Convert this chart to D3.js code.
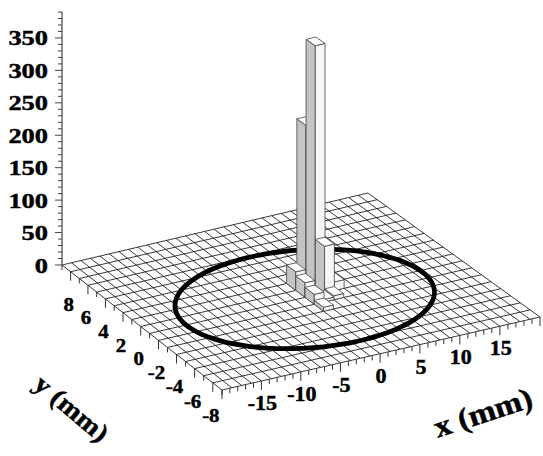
<!DOCTYPE html>
<html>
<head>
<meta charset="utf-8">
<script src="https://cdn.jsdelivr.net/npm/d3@7"></script>
<style>
  body { margin: 0; background: #fff; }
  text { font-family: "Liberation Serif", "Times New Roman", serif; font-weight: bold; fill: #000; stroke: #000; stroke-width: 0.45px; }
</style>
</head>
<body>
<svg width="543" height="456"></svg>
<script>
// histogram range and binning (mm)
const xRange = [-20, 20];
const yRange = [-9, 9];
const xBin = 1.25;
const yBin = 1;
const zMax = 390;

// tick labels
const zTicks = [0, 50, 100, 150, 200, 250, 300, 350];
const xTickLabels = [-15, -10, -5, 0, 5, 10, 15];
const yTickLabels = [8, 6, 4, 2, 0, -2, -4, -6, -8];

// non-empty bins: centre x, centre y, counts
const barX = [3.125, 3.125, 3.125, 4.375, 0.625, 0.625, 0.625, 0.625, 1.875, 3.125];
const barY = [1.5, 0.5, -0.5, -0.5, 0.5, -0.5, -1.5, -2.5, -1.5, -1.5];
const barZ = [232, 362, 70, 13, 28, 22, 15, 6, 4, 6];

// beam ellipse on the floor
const ellipseCenter = [-0.3, -1.1];
const ellipseAxes = [15, 6];

const svg = d3.select('svg');
const g = svg.append('g');

// floor corners in the picture: (u,v) = (0,0) (1,0) (1,1) (0,1)
const corners = [[62, 265], [368, 193], [540, 317], [222, 390]];

function makeH(q) {
  const [x0, y0] = q[0], [x1, y1] = q[1], [x2, y2] = q[2], [x3, y3] = q[3];
  const dx1 = x1 - x2, dx2 = x3 - x2, dx3 = x0 - x1 + x2 - x3;
  const dy1 = y1 - y2, dy2 = y3 - y2, dy3 = y0 - y1 + y2 - y3;
  const den = dx1 * dy2 - dx2 * dy1;
  const gg = (dx3 * dy2 - dx2 * dy3) / den, hh = (dx1 * dy3 - dx3 * dy1) / den;
  const a = x1 - x0 + gg * x1, b = x3 - x0 + hh * x3, c = x0;
  const d = y1 - y0 + gg * y1, e = y3 - y0 + hh * y3, f = y0;
  return (u, v) => {
    const w = gg * u + hh * v + 1;
    return [(a * u + b * v + c) / w, (d * u + e * v + f) / w, w];
  };
}
const H = makeH(corners);

const uScale = d3.scaleLinear().domain(xRange).range([0, 1]);
const vScale = d3.scaleLinear().domain([yRange[1], yRange[0]]).range([0, 1]);
const zScale = d3.scaleLinear().domain([0, zMax]).range([0, 253]);

function P(x, y, z) {
  const [X, Y, w] = H(uScale(x), vScale(y));
  return [X, Y - zScale(z || 0) / w];
}

const line = d3.line();

// floor grid
const xEdges = d3.range(xRange[0], xRange[1] + 1e-6, xBin);
const yEdges = d3.range(yRange[0], yRange[1] + 1e-6, yBin);
g.append('g').selectAll('path').data(xEdges).enter().append('path')
  .attr('d', x => line([P(x, yRange[0]), P(x, yRange[1])]))
  .attr('stroke', '#222').attr('stroke-width', 0.9).attr('fill', 'none');
g.append('g').selectAll('path').data(yEdges).enter().append('path')
  .attr('d', y => line([P(xRange[0], y), P(xRange[1], y)]))
  .attr('stroke', '#222').attr('stroke-width', 0.9).attr('fill', 'none');

// ellipse
const ellPts = d3.range(0, 360, 3).map(t => {
  const r = t * Math.PI / 180;
  return P(ellipseCenter[0] + ellipseAxes[0] * Math.cos(r), ellipseCenter[1] + ellipseAxes[1] * Math.sin(r));
});
g.append('path')
  .attr('d', d3.line().curve(d3.curveCardinalClosed)(ellPts))
  .attr('fill', 'none').attr('stroke', '#000').attr('stroke-width', 4.8);

// bars, back to front
const bars = barX.map((x, i) => ({x: x, y: barY[i], z: barZ[i]}))
  .sort((a, b) => (b.y - a.y) || (b.x - a.x));

const barG = g.append('g');
bars.forEach(b => {
  const x0 = b.x - xBin / 2, x1 = b.x + xBin / 2, y0 = b.y - yBin / 2, y1 = b.y + yBin / 2;
  // left face (x = x0)
  barG.append('path')
    .attr('d', line([P(x0, y0, 0), P(x0, y1, 0), P(x0, y1, b.z), P(x0, y0, b.z)]) + 'Z')
    .attr('fill', '#c4c4c4').attr('stroke', '#444').attr('stroke-width', 0.8);
  // front face (y = y0)
  barG.append('path')
    .attr('d', line([P(x0, y0, 0), P(x1, y0, 0), P(x1, y0, b.z), P(x0, y0, b.z)]) + 'Z')
    .attr('fill', '#f6f6f6').attr('stroke', '#444').attr('stroke-width', 0.8);
  // top
  barG.append('path')
    .attr('d', line([P(x0, y0, b.z), P(x1, y0, b.z), P(x1, y1, b.z), P(x0, y1, b.z)]) + 'Z')
    .attr('fill', '#fff').attr('stroke', '#444').attr('stroke-width', 0.8);
});

// z axis
const zx = corners[0][0], zy = corners[0][1];
g.append('path').attr('d', line([[zx, zy], [zx, zy - zScale(zMax)]]))
  .attr('stroke', '#444').attr('stroke-width', 1.2);
g.append('g').selectAll('path').data(d3.range(0, zMax + 1, 10)).enter().append('path')
  .attr('d', z => line([[zx, zy - zScale(z)], [zx - (z % 50 === 0 ? 7 : 4), zy - zScale(z)]]))
  .attr('stroke', '#444').attr('stroke-width', 1);
g.append('g').selectAll('text').data(zTicks).enter().append('text')
  .attr('transform', z => `translate(48,${zy - zScale(z) + 7.5}) scale(1.2,1)`)
  .attr('text-anchor', 'end').attr('font-size', 22)
  .text(z => z);

// x axis ticks along the front edge
g.append('g').selectAll('path').data(d3.range(xRange[0], xRange[1] + 1e-6, 1)).enter().append('path')
  .attr('d', x => { const p = P(x, yRange[0]); return line([p, [p[0], p[1] + (x % 5 === 0 ? 9 : 5)]]); })
  .attr('stroke', '#333').attr('stroke-width', 1);
g.append('g').selectAll('text').data(xTickLabels).enter().append('text')
  .attr('transform', x => { const p = P(x, yRange[0]); return `translate(${p[0] + 1},${p[1] + 29}) scale(1.1,1)`; })
  .attr('text-anchor', 'middle').attr('font-size', 20)
  .text(x => x);

// y axis ticks along the left edge
g.append('g').selectAll('path').data(d3.range(yRange[0], yRange[1] + 1e-6, 1)).enter().append('path')
  .attr('d', y => { const p = P(xRange[0], y); return line([p, [p[0], p[1] + (y % 2 === 0 ? 9 : 5)]]); })
  .attr('stroke', '#333').attr('stroke-width', 1);
g.append('g').selectAll('text').data(yTickLabels).enter().append('text')
  .attr('transform', y => { const p = P(xRange[0], y); return `translate(${p[0] - 2},${p[1] + 39}) scale(1.1,1)`; })
  .attr('text-anchor', 'middle').attr('font-size', 19)
  .text(y => y);

// axis titles
g.append('text').attr('transform', 'translate(486,422) rotate(-18) scale(1.1,1)')
  .attr('text-anchor', 'middle').attr('font-size', 30).text('x (mm)');
g.append('text').attr('transform', 'translate(66,415) rotate(40) scale(1.1,1)')
  .attr('text-anchor', 'middle').attr('font-size', 26).text('y (mm)');
</script>
</body>
</html>
